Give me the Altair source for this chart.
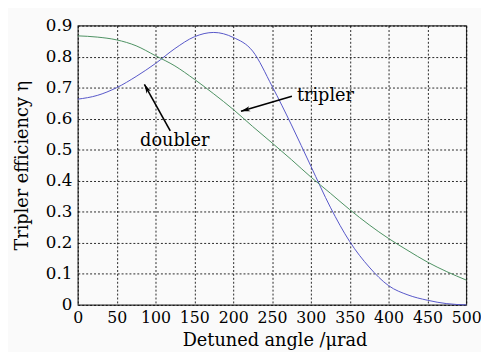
import altair as alt
import pandas as pd

# Data
angle = [0, 25, 50, 75, 100, 125, 150, 175, 200, 225, 250, 275, 300, 325,
         350, 375, 400, 425, 450, 475, 500]
doubler = [0.663, 0.675, 0.700, 0.736, 0.778, 0.826, 0.864, 0.878, 0.862,
           0.818, 0.705, 0.580, 0.447, 0.315, 0.204, 0.122, 0.062, 0.032,
           0.015, 0.004, 0.0]
tripler = [0.867, 0.863, 0.854, 0.835, 0.803, 0.770, 0.727, 0.680, 0.630,
           0.575, 0.522, 0.468, 0.412, 0.360, 0.307, 0.258, 0.214, 0.175,
           0.138, 0.107, 0.080]

x_ticks = [0, 50, 100, 150, 200, 250, 300, 350, 400, 450, 500]
y_ticks = [0, 0.1, 0.2, 0.3, 0.4, 0.5, 0.6, 0.7, 0.8, 0.9]

# annotations: label, text position, arrow tail, arrow tip, head angle
ann_label = ["doubler", "tripler"]
ann_tx = [124.7, 282.0]
ann_ty = [0.513, 0.656]
ann_align = ["center", "left"]
arrow_x0 = [119.0, 275.6]
arrow_y0 = [0.561, 0.672]
arrow_x1 = [85.7, 210.0]
arrow_y1 = [0.711, 0.624]
arrow_ang = [331, 254]

SERIF = "DejaVu Serif"

curves = pd.DataFrame({
    "angle": angle * 2,
    "eff": doubler + tripler,
    "series": ["doubler"] * len(angle) + ["tripler"] * len(angle),
})
ann = pd.DataFrame({
    "label": ann_label, "tx": ann_tx, "ty": ann_ty, "align": ann_align,
    "x0": arrow_x0, "y0": arrow_y0, "x1": arrow_x1, "y1": arrow_y1,
    "ang": arrow_ang,
})

xscale = alt.Scale(domain=[0, 500], nice=False)
yscale = alt.Scale(domain=[0, 0.9], nice=False)

xaxis = alt.Axis(values=x_ticks, title="Detuned angle /μrad",
                 labelPadding=5, labelFontSize=16,
                 titleBaseline="alphabetic", titleY=41,
                 titleX=200, titleFontSize=18)
yaxis = alt.Axis(values=y_ticks, format="~g", title="Tripler efficiency η",
                 labelPadding=6, labelFontSize=17,
                 titleBaseline="alphabetic", titleX=-51,
                 titleY=142, titleAngle=270, titleFontSize=18)

lines = alt.Chart(curves).mark_line(strokeWidth=1, interpolate="monotone").encode(
    x=alt.X("angle:Q", scale=xscale, axis=xaxis),
    y=alt.Y("eff:Q", scale=yscale, axis=yaxis),
    color=alt.Color("series:N", scale=alt.Scale(domain=["doubler", "tripler"],
                                                range=["#5555c8", "#4a9060"]),
                    legend=None),
)

shafts = alt.Chart(ann).mark_rule(color="#000", strokeWidth=1.6).encode(
    x=alt.X("x0:Q", scale=xscale, axis=xaxis),
    y=alt.Y("y0:Q", scale=yscale, axis=yaxis),
    x2="x1:Q", y2="y1:Q",
)

heads = alt.Chart(ann).mark_point(
    shape="M0,0 L0.5,1.8 L0,1.3 L-0.5,1.8 Z", filled=True, color="#000",
    size=110, opacity=1,
).encode(
    x=alt.X("x1:Q", scale=xscale, axis=xaxis),
    y=alt.Y("y1:Q", scale=yscale, axis=yaxis),
    angle=alt.Angle("ang:Q", scale=None),
)

texts_c = alt.Chart(ann[ann["align"] == "center"]).mark_text(
    font=SERIF, fontSize=18, align="center", baseline="alphabetic", color="#000"
).encode(x=alt.X("tx:Q", scale=xscale, axis=xaxis),
         y=alt.Y("ty:Q", scale=yscale, axis=yaxis), text="label:N")

texts_l = alt.Chart(ann[ann["align"] == "left"]).mark_text(
    font=SERIF, fontSize=18, align="left", baseline="alphabetic", color="#000"
).encode(x=alt.X("tx:Q", scale=xscale, axis=xaxis),
         y=alt.Y("ty:Q", scale=yscale, axis=yaxis), text="label:N")

chart = alt.layer(lines, shafts, heads, texts_c, texts_l).properties(
    width=395, height=284,
    autosize=alt.AutoSizeParams(type="none"),
    padding={"left": 71, "top": 15, "right": 15, "bottom": 45},
    background="#fafafa",
).configure_view(
    stroke="#333", strokeWidth=1.2, fill="#fafafa"
).configure_axis(
    grid=True, gridDash=[2, 2], gridColor="#000", gridOpacity=0.85,
    ticks=False, domain=False, labelFlush=False, labelOverlap=False,
    labelFont=SERIF, labelColor="#000",
    titleFont=SERIF, titleFontWeight="normal", titleColor="#000",
)

chart.save("out.html", embed_options={"renderer": "svg", "actions": False})
